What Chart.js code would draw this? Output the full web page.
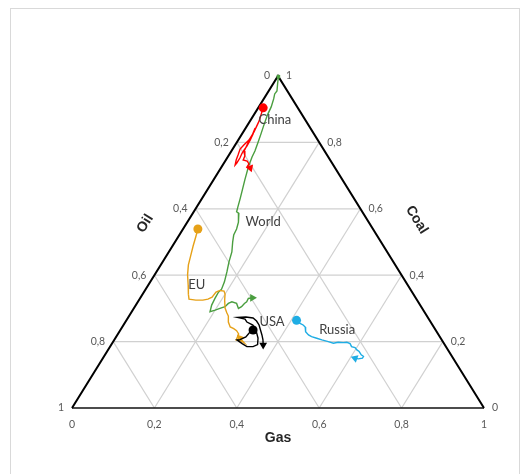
<!DOCTYPE html>
<html>
<head>
<meta charset="utf-8">
<script src="https://cdn.jsdelivr.net/npm/chart.js@4.4.0/dist/chart.umd.min.js"></script>
<style>
  html, body { margin: 0; padding: 0; background: #fff; }
  #wrap { position: relative; width: 530px; height: 474px; overflow: hidden; }
  #frame { position: absolute; left: 10px; top: 8px; width: 510px; height: 520px;
    border: 1px solid #d9d9d9; box-sizing: border-box; }
  #c { position: absolute; left: 0; top: 0; }
</style>
</head>
<body>
<div id="wrap"><div id="frame"></div><canvas id="c" width="530" height="474"></canvas></div>
<script>
// Ternary diagram of fossil energy mix: coal (top), oil (bottom-left), gas (bottom-right)
// Each trajectory is stored as coal share + gas share; oil is the remainder.

const tickValues = [0, 0.2, 0.4, 0.6, 0.8, 1];
const tickText = ['0', '0,2', '0,4', '0,6', '0,8', '1'];
const gridLevels = [0.2, 0.4, 0.6, 0.8];

const worldCoal = [0.998, 0.976, 0.955, 0.946, 0.931, 0.907, 0.883, 0.855, 0.825, 0.798,
  0.774, 0.756, 0.741, 0.726, 0.705, 0.687, 0.657, 0.630, 0.605, 0.591,
  0.586, 0.560, 0.539, 0.521, 0.500, 0.470, 0.440, 0.410, 0.380, 0.358,
  0.349, 0.330, 0.310, 0.290, 0.295, 0.300, 0.305, 0.315, 0.320, 0.315,
  0.300, 0.305, 0.315, 0.320, 0.330, 0.332];
const worldGas = [0.002, 0.011, 0.020, 0.019, 0.024, 0.030, 0.033, 0.039, 0.046, 0.052,
  0.057, 0.059, 0.062, 0.065, 0.071, 0.076, 0.085, 0.093, 0.100, 0.104,
  0.112, 0.124, 0.130, 0.132, 0.140, 0.153, 0.161, 0.171, 0.180, 0.184,
  0.181, 0.182, 0.184, 0.190, 0.200, 0.209, 0.219, 0.222, 0.228, 0.242,
  0.254, 0.259, 0.261, 0.264, 0.263, 0.272];

const chinaCoal = [0.904, 0.864, 0.831, 0.807, 0.792, 0.780, 0.762, 0.747, 0.732, 0.738,
  0.753, 0.768, 0.777, 0.789, 0.807, 0.825, 0.843, 0.819, 0.798, 0.774,
  0.759, 0.747, 0.744, 0.735, 0.726, 0.723];
const chinaGas = [0.012, 0.022, 0.026, 0.026, 0.021, 0.018, 0.022, 0.025, 0.030, 0.031,
  0.031, 0.029, 0.029, 0.030, 0.029, 0.027, 0.023, 0.027, 0.028, 0.031,
  0.040, 0.042, 0.053, 0.062, 0.062, 0.071];

const euCoal = [0.539, 0.518, 0.488, 0.458, 0.431, 0.401, 0.370, 0.343, 0.328, 0.325,
  0.325, 0.328, 0.334, 0.349, 0.354, 0.352, 0.343, 0.325, 0.301, 0.286,
  0.277, 0.259, 0.244, 0.239, 0.233, 0.223, 0.205, 0.202, 0.196, 0.211];
const euGas = [0.036, 0.042, 0.050, 0.059, 0.067, 0.080, 0.097, 0.111, 0.120, 0.138,
  0.155, 0.166, 0.173, 0.175, 0.182, 0.193, 0.200, 0.208, 0.221, 0.233,
  0.241, 0.250, 0.262, 0.273, 0.283, 0.293, 0.296, 0.309, 0.320, 0.302];

const usaCoal = [0.235, 0.226, 0.214, 0.206, 0.205, 0.194, 0.185, 0.185, 0.191, 0.211,
  0.232, 0.250, 0.259, 0.268, 0.273, 0.274, 0.271, 0.262, 0.250, 0.235,
  0.220, 0.205, 0.190];
const usaGas = [0.322, 0.317, 0.315, 0.305, 0.298, 0.316, 0.332, 0.347, 0.355, 0.346,
  0.331, 0.314, 0.295, 0.286, 0.266, 0.285, 0.304, 0.317, 0.329, 0.340,
  0.351, 0.361, 0.369];

const russiaCoal = [0.264, 0.255, 0.250, 0.244, 0.230, 0.220, 0.215, 0.210, 0.205, 0.200,
  0.195, 0.198, 0.197, 0.198, 0.194, 0.185, 0.182, 0.175, 0.170, 0.160,
  0.155, 0.150, 0.148, 0.150];
const russiaGas = [0.413, 0.426, 0.436, 0.444, 0.452, 0.464, 0.474, 0.489, 0.504, 0.522,
  0.537, 0.547, 0.560, 0.568, 0.578, 0.586, 0.596, 0.604, 0.612, 0.622,
  0.630, 0.630, 0.621, 0.612];

const labelNames = ['China', 'World', 'EU', 'USA', 'Russia'];
const labelCoal = [0.867, 0.560, 0.370, 0.259, 0.235];
const labelGas = [0.059, 0.184, 0.118, 0.356, 0.526];

// ternary (coal, gas) -> cartesian data space of the scatter chart
function toXY(coal, gas) { return { x: gas + coal / 2, y: coal }; }
function path(coal, gas) { return coal.map(function (c, i) { return toXY(c, gas[i]); }); }

const series = [
  { name: 'China',  coal: chinaCoal,  gas: chinaGas,  color: '#FF0000', endRot: 160, startR: 4.5 },
  { name: 'USA',    coal: usaCoal,    gas: usaGas,    color: '#000000', endRot: 180, startR: 4.5 },
  { name: 'EU',     coal: euCoal,     gas: euGas,     color: '#E6A118', endRot: 200, startR: 4.5 },
  { name: 'Russia', coal: russiaCoal, gas: russiaGas, color: '#1FADE4', endRot: -70, startR: 4.5 },
  { name: 'World',  coal: worldCoal,  gas: worldGas,  color: '#4A9E3F', endRot: 90,  startR: 2.5 }
];

const datasets = [];

series.forEach(function (s) {
  const n = s.coal.length;
  datasets.push({
    label: s.name,
    data: path(s.coal, s.gas),
    showLine: true,
    borderColor: s.color,
    borderWidth: 1.4,
    backgroundColor: s.color,
    pointBackgroundColor: s.color,
    pointBorderColor: s.color,
    pointBorderWidth: 0,
    pointStyle: function (ctx) {
      if (ctx.dataIndex === 0) return s.name === 'World' ? 'rect' : 'circle';
      return 'triangle';
    },
    pointRadius: function (ctx) {
      if (ctx.dataIndex === 0) return s.startR;
      if (ctx.dataIndex === n - 1) return 4.5;
      return 0;
    },
    rotation: function (ctx) { return ctx.dataIndex === n - 1 ? s.endRot : 0; },
    clip: false,
    order: 1
  });
});

// triangle frame
datasets.push({
  data: [toXY(0, 0), toXY(1, 0), toXY(0, 1)],
  showLine: true, borderColor: '#000', borderWidth: 2, pointRadius: 0, clip: false, order: 2
});
datasets.push({
  data: [toXY(0, 0), toXY(0, 1)],
  showLine: true, borderColor: '#111', borderWidth: 1.3, pointRadius: 0, clip: false, order: 2
});

// grid lines: constant coal, constant gas, constant oil
gridLevels.forEach(function (v) {
  const lines = [
    [toXY(v, 0), toXY(v, 1 - v)],
    [toXY(0, v), toXY(1 - v, v)],
    [toXY(0, 1 - v), toXY(1 - v, 0)]
  ];
  lines.forEach(function (l) {
    datasets.push({
      data: l, showLine: true, borderColor: '#d0d0d0', borderWidth: 1.2,
      pointRadius: 0, clip: false, order: 3
    });
  });
});

const textPlugin = {
  id: 'ternaryText',
  afterDatasetsDraw: function (chart) {
    const xs = chart.scales.x, ys = chart.scales.y, g = chart.ctx;
    const px = function (c, gas) { return xs.getPixelForValue(gas + c / 2); };
    const py = function (c) { return ys.getPixelForValue(c); };
    g.save();

    // tick labels
    g.font = '10.5px Lato';
    g.fillStyle = '#595959';
    g.textAlign = 'center'; g.textBaseline = 'top';
    tickValues.forEach(function (v, i) { g.fillText(tickText[i], px(0, v), py(0) + 11); });
    g.textAlign = 'right'; g.textBaseline = 'middle';
    tickValues.forEach(function (v, i) { g.fillText(tickText[i], px(1 - v, 0) - 8, py(1 - v)); });
    g.textAlign = 'left';
    tickValues.forEach(function (v, i) { g.fillText(tickText[i], px(v, 1 - v) + 8, py(v)); });

    // axis titles
    g.font = 'bold 14px "Liberation Sans"';
    g.fillStyle = '#262626';
    g.textAlign = 'center'; g.textBaseline = 'middle';
    g.fillText('Gas', px(0, 0.5), py(0) + 30);

    const lx = px(0.5, 0), ly = py(0.5);
    const ang = Math.atan2(py(1) - py(0), px(1, 0) - px(0, 0));
    g.save();
    g.translate(lx - 35 * Math.sin(-ang), ly - 35 * Math.cos(-ang));
    g.rotate(ang);
    g.fillText('Oil', 0, 0);
    g.restore();

    const rx = px(0.5, 0.5), ry = py(0.5);
    g.save();
    g.translate(rx + 42 * Math.sin(-ang), ry - 42 * Math.cos(-ang));
    g.rotate(-ang);
    g.fillText('Coal', 0, 0);
    g.restore();

    // series names
    g.font = '13px Lato';
    g.fillStyle = '#404040';
    labelNames.forEach(function (name, i) {
      g.fillText(name, px(labelCoal[i], labelGas[i]), py(labelCoal[i]));
    });
    g.restore();
  }
};

new Chart(document.getElementById('c'), {
  type: 'scatter',
  data: { datasets: datasets },
  options: {
    responsive: false,
    animation: false,
    events: [],
    layout: { padding: { left: 72, right: 46, top: 76, bottom: 66 } },
    scales: {
      x: { type: 'linear', min: 0, max: 1, display: false },
      y: { type: 'linear', min: 0, max: 1, display: false }
    },
    plugins: { legend: { display: false }, tooltip: { enabled: false } }
  },
  plugins: [textPlugin]
});
</script>
</body>
</html>
